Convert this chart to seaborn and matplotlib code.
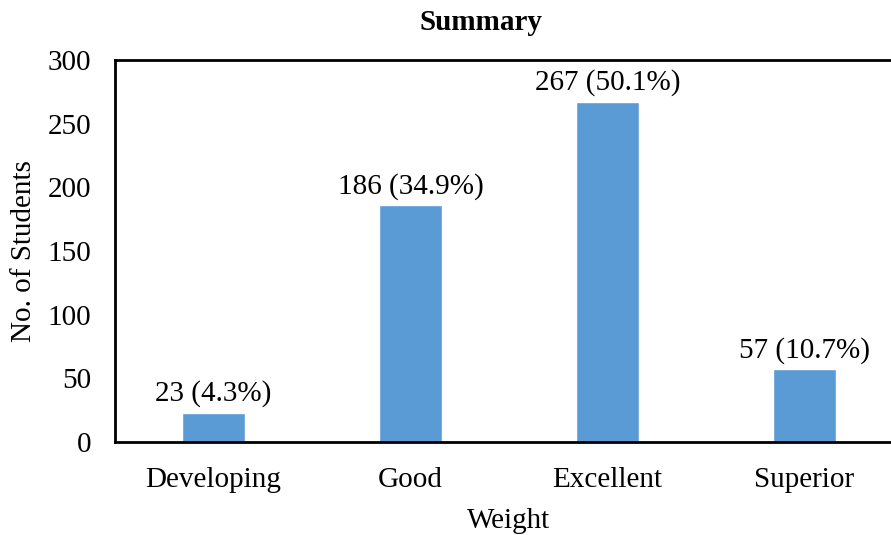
import matplotlib
matplotlib.use("Agg")
import matplotlib.pyplot as plt
import seaborn as sns
import pandas as pd

categories = ["Developing", "Good", "Excellent", "Superior"]
counts = [23, 186, 267, 57]
percents = [4.3, 34.9, 50.1, 10.7]
yticks = [0, 50, 100, 150, 200, 250, 300]

sns.set_theme(style="white")
plt.rcParams["font.family"] = ["Liberation Serif", "DejaVu Serif"]

FS = 21

df = pd.DataFrame({"Weight": categories, "Count": counts})

fig = plt.figure(figsize=(8.91, 5.35), dpi=100)
ax = fig.add_axes([115 / 891, 1 - 442 / 535, 788 / 891, 382 / 535])

sns.barplot(data=df, x="Weight", y="Count", color="#5B9BD5", width=0.315,
            saturation=1, ax=ax)

for i, (c, p) in enumerate(zip(counts, percents)):
    ax.annotate(f"{c} ({p}%)", (i, c), xytext=(0, 4), textcoords="offset points",
                ha="center", va="bottom", fontsize=FS, color="black")

ax.set_xlim(-0.5, 3.5)
ax.set_ylim(0, 300)
ax.set_yticks(yticks)
ax.tick_params(axis="both", length=0, labelsize=FS, colors="black")
ax.tick_params(axis="x", pad=18)
ax.tick_params(axis="y", pad=17)

for side in ["left", "top", "bottom"]:
    ax.spines[side].set_visible(True)
    ax.spines[side].set_color("black")
    ax.spines[side].set_linewidth(2)
ax.spines["right"].set_visible(False)

ax.set_xlabel("Weight", fontsize=FS, color="black", labelpad=11)
ax.set_ylabel("No. of Students", fontsize=FS, color="black", labelpad=8)
fig.text(481 / 891, 1 - 23 / 535, "Summary", ha="center", va="center",
         fontsize=FS, fontweight="bold", color="black")

fig.savefig("out.png", dpi=100)
